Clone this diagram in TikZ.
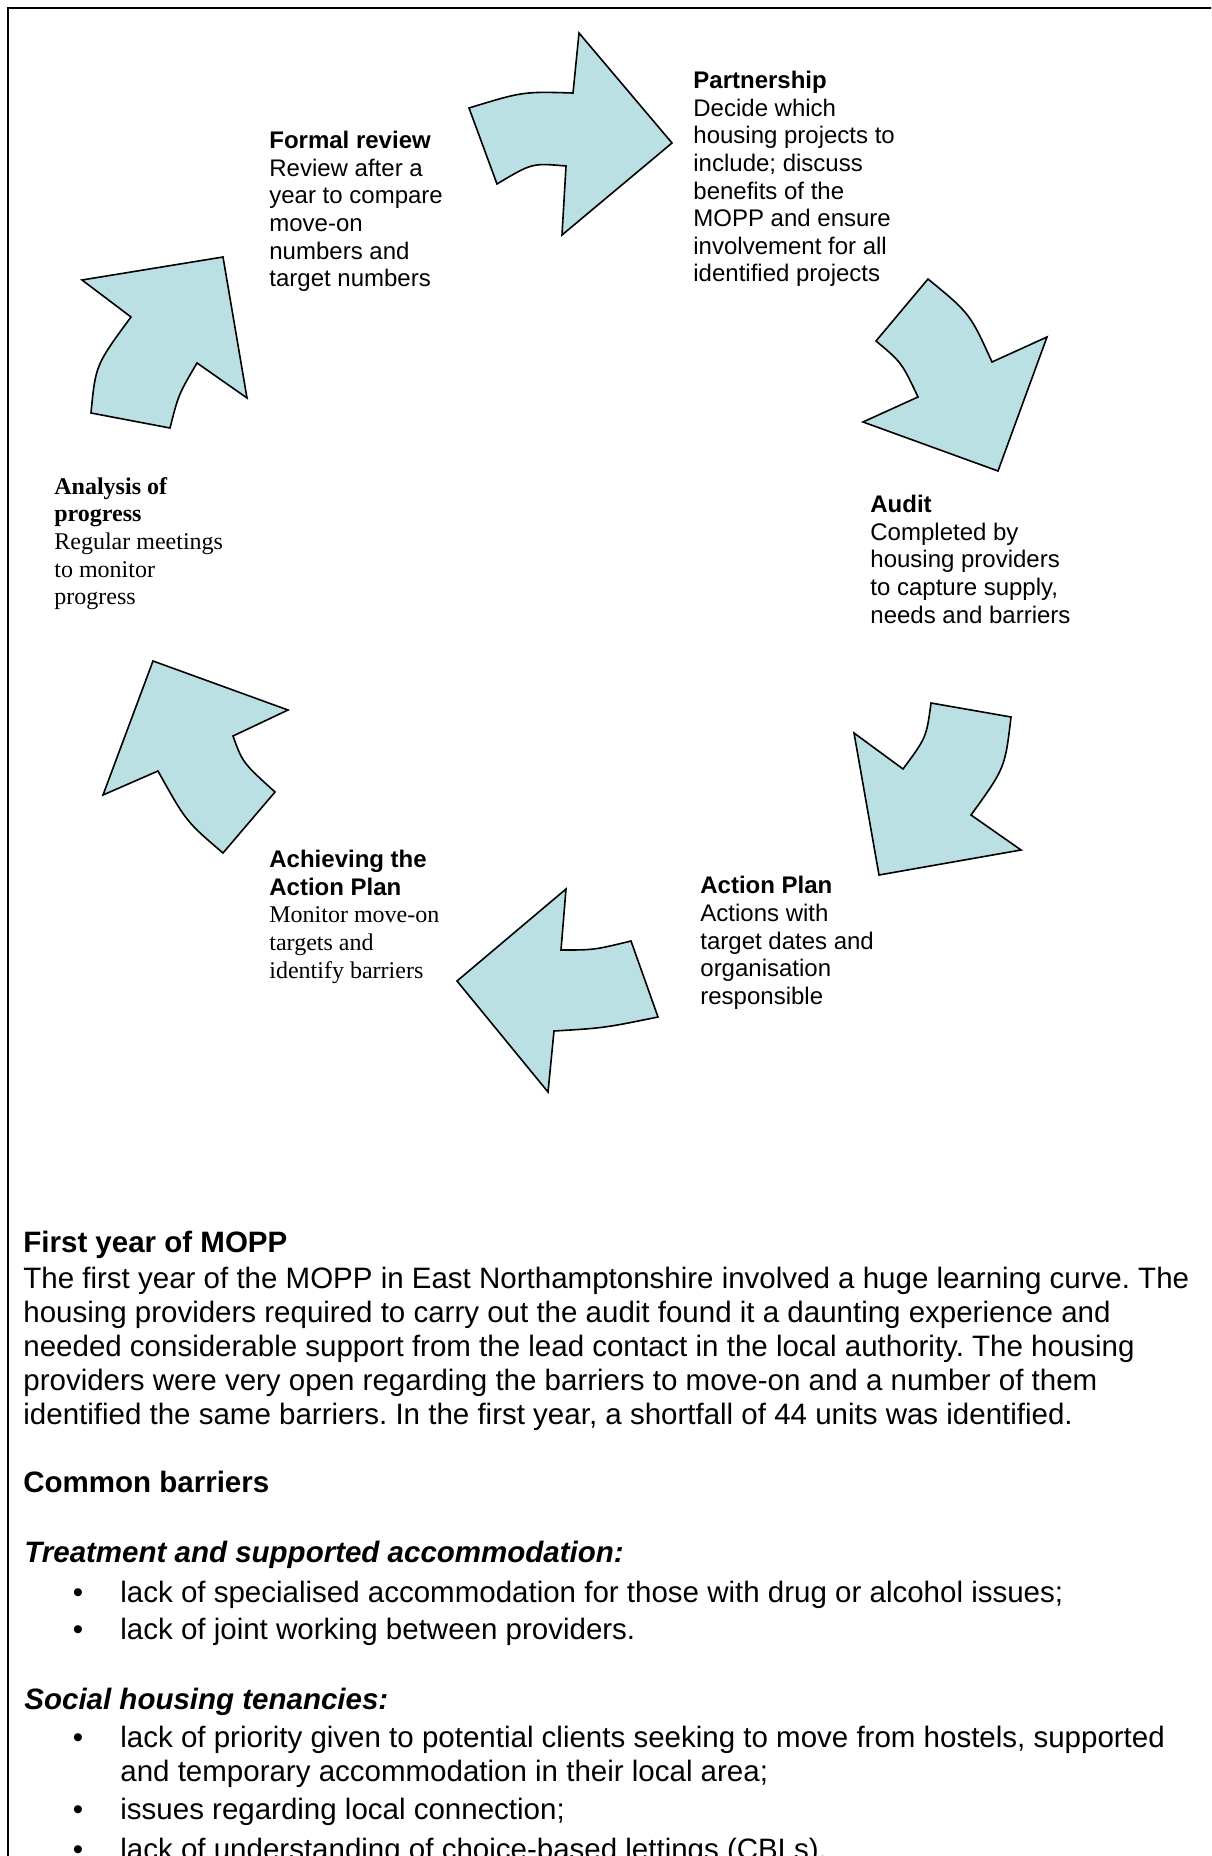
\documentclass[tikz,border=0pt]{standalone}
\usepackage{fontspec}
\setmainfont{Liberation Sans}
\newfontfamily\timesfont{Liberation Serif}
\usetikzlibrary{positioning}
\frenchspacing
\definecolor{arrowblue}{RGB}{187,224,227}
\tikzset{
  cycle arrow/.style={draw,fill=arrowblue,line width=0.8pt,line join=miter},
  step text/.style={anchor=north west,inner sep=0pt,align=left,font=\fontsize{12}{13.8}\selectfont},
  serif text/.style={step text,font=\timesfont\fontsize{12}{13.8}\selectfont},
  body text/.style={anchor=north west,inner sep=0pt,align=left,font=\fontsize{14.75}{17}\selectfont},
  head text/.style={body text,font=\bfseries\fontsize{14.75}{17}\selectfont},
  sub head/.style={body text,font=\bfseries\itshape\fontsize{14.75}{17}\selectfont},
  bullet mark/.style={anchor=base,inner sep=0pt,font=\fontsize{14.75}{17}\selectfont}
}
\begin{document}
\begin{tikzpicture}[x=0.5pt,y=-0.5pt]
\clip (0,0) rectangle (1211,1856);
\fill[white] (0,0) rectangle (1211,1856);
\draw[line width=0.9pt] (8,1900) -- (8,8) -- (1250,8);

% the six curved arrows of the cycle
\draw[cycle arrow] (469,108) .. controls (523,91.5) .. (573,93) -- (579,33) -- (672,143)
  -- (562,235) -- (566,166) .. controls (532,163) .. (497,184) -- cycle;
\draw[cycle arrow] (928,279) .. controls (970,313.5) .. (992,362) -- (1047,337) -- (998,471)
  -- (863,422) -- (918,397) .. controls (901.6,362.4) .. (876,341) -- cycle;
\draw[cycle arrow] (1011,717) .. controls (1005,768) .. (971,815) -- (1021,850) -- (879,875)
  -- (854,733) -- (903,769) .. controls (926.4,737.4) .. (931,703) -- cycle;
\draw[cycle arrow] (566,889) -- (561,950) .. controls (594,950) .. (631,941) -- (658,1017)
  .. controls (604,1028) .. (554,1031) -- (548,1092) -- (457,981) -- cycle;
\draw[cycle arrow] (153,661) -- (288,710) -- (233,736) .. controls (242.6,762.6) .. (275,792)
  -- (223,853) .. controls (186,821.4) .. (158,771) -- (103,795) -- cycle;
\draw[cycle arrow] (82,280) -- (223,257) -- (247,398) -- (197,363) .. controls (178.5,394.5) .. (170,428)
  -- (91,413) .. controls (95.6,365) .. (131,317) -- cycle;

% stage texts
\node[step text] (partner) at (693,71) {\textbf{Partnership}\\Decide which\\housing projects to\\include; discuss\\benefits of the\\MOPP and ensure\\involvement for all\\identified projects};
\node[step text] (formal) at (269,131) {\textbf{Formal review}\\Review after a\\year to compare\\move-on\\numbers and\\target numbers};
\node[step text] (audit) at (870,495) {\textbf{Audit}\\Completed by\\housing providers\\to capture supply,\\needs and barriers};
\node[step text] (plan) at (700,876) {\textbf{Action Plan}\\Actions with\\target dates and\\organisation\\responsible};
\node[step text] (achieve) at (269,850) {\textbf{Achieving the}\\\textbf{Action Plan}\\{\timesfont Monitor move-on}\\{\timesfont targets and}\\{\timesfont identify barriers}};
\node[serif text] (analysis) at (54,477) {\textbf{Analysis of}\\\textbf{progress}\\Regular meetings\\to monitor\\progress};

% text below the cycle
\node[head text] (yearhead) at (23,1231) {First year of MOPP};
\node[body text] (yearpara) at (23,1267) {The first year of the MOPP in East Northamptonshire involved a huge learning curve. The\\housing providers required to carry out the audit found it a daunting experience and\\needed considerable support from the lead contact in the local authority. The housing\\providers were very open regarding the barriers to move-on and a number of them\\identified the same barriers. In the first year, a shortfall of 44 units was identified.};
\node[head text] (barrierhead) at (23,1471) {Common barriers};
\node[sub head] (treathead) at (24,1541) {Treatment and supported accommodation:};
\node[body text] (treat1) at (120,1581) {lack of specialised accommodation for those with drug or alcohol issues;};
\node[body text] (treat2) at (120,1618) {lack of joint working between providers.};
\node[sub head] (socialhead) at (24,1688) {Social housing tenancies:};
\node[body text] (social1) at (120,1726) {lack of priority given to potential clients seeking to move from hostels, supported\\and temporary accommodation in their local area;};
\node[body text] (social2) at (120,1798) {issues regarding local connection;};
\node[body text] (social3) at (120,1838) {lack of understanding of choice-based lettings (CBLs).};
\node[bullet mark] (dot1) at (78,1602) {\textbullet};
\node[bullet mark] (dot2) at (78,1639) {\textbullet};
\node[bullet mark] (dot3) at (78,1747) {\textbullet};
\node[bullet mark] (dot4) at (78,1819) {\textbullet};
\node[bullet mark] (dot5) at (78,1859) {\textbullet};
\end{tikzpicture}
\end{document}
